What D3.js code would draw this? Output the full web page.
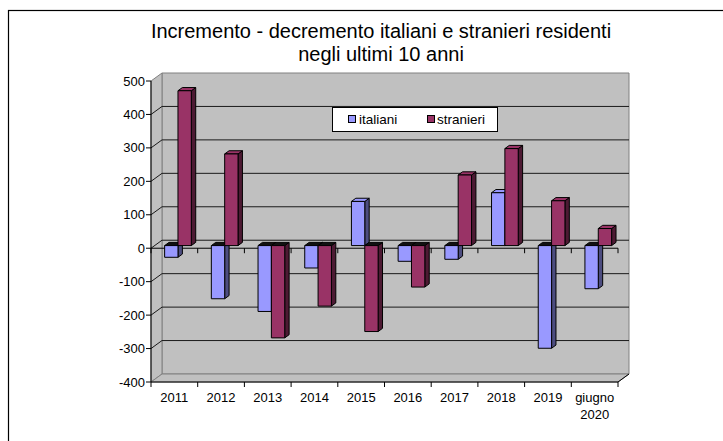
<!DOCTYPE html>
<html><head><meta charset="utf-8">
<script src="https://cdn.jsdelivr.net/npm/d3@7"></script>
<style>
html,body{margin:0;padding:0;background:#fff;}
svg{display:block;}
text{font-family:"Liberation Sans",Arial,sans-serif;fill:#000;}
</style></head>
<body>
<svg id="chart" width="723" height="441"></svg>
<script>
const categories = ["2011","2012","2013","2014","2015","2016","2017","2018","2019","giugno 2020"];
const seriesNames = ["italiani","stranieri"];
const italiani = [-35,-159,-197,-67,132,-47,-41,158,-307,-129];
const stranieri = [463,274,-276,-181,-257,-124,211,290,134,51];
const yTicks = [-400,-300,-200,-100,0,100,200,300,400,500];
const titleLines = ["Incremento - decremento italiani e stranieri residenti","negli ultimi 10 anni"];

const colors = {italiani:"#9999FF", stranieri:"#993366"};
const sideColors = {italiani:"#4D4D80", stranieri:"#4D1A33"};
const seriesValues = {italiani, stranieri};

const svg = d3.select("#chart");
const DX = 11, DY = 8;           // depth of the 3D box
const D0 = 0.33, D1 = 0.73;      // bar depth range
const x = d3.scaleBand().domain(categories).range([151, 618]);
const xs = d3.scaleBand().domain(seriesNames).range([0, x.bandwidth()]).paddingInner(0).paddingOuter(0.75);
const y = d3.scaleLinear().domain([-400, 500]).range([382, 81]);
const P = (px, v, d) => [px + d*DX, y(v) - d*DY];
const poly = pts => pts.map(p => p.join(",")).join(" ");

// chart border
svg.append("rect").attr("x",8.5).attr("y",10.5).attr("width",800).attr("height",600)
  .attr("fill","none").attr("stroke","#000").attr("stroke-width",1.2);

// title
svg.append("text").attr("x",381).attr("y",38).attr("text-anchor","middle")
  .style("font-size","20px").text(titleLines[0]);
svg.append("text").attr("x",381).attr("y",61).attr("text-anchor","middle")
  .style("font-size","20px").text(titleLines[1]);

const x0 = x.range()[0], x1 = x.range()[1];
const vMin = y.domain()[0], vMax = y.domain()[1];

// back wall
svg.append("polygon").attr("points", poly([P(x0,vMax,1),P(x1,vMax,1),P(x1,vMin,1),P(x0,vMin,1)]))
  .attr("fill","#C0C0C0").attr("stroke","#808080").attr("stroke-width",1);
// left wall
svg.append("polygon").attr("points", poly([P(x0,vMax,0),P(x0,vMax,1),P(x0,vMin,1),P(x0,vMin,0)]))
  .attr("fill","#C0C0C0").attr("stroke","#808080").attr("stroke-width",1);
// floor
svg.append("polygon").attr("points", poly([P(x0,vMin,0),P(x1,vMin,0),P(x1,vMin,1),P(x0,vMin,1)]))
  .attr("fill","#C0C0C0").attr("stroke","#808080").attr("stroke-width",1);

// gridlines
const grid = svg.append("g").attr("stroke","#1a1a1a").attr("stroke-width",1).attr("fill","none");
yTicks.filter(v => v > vMin && v < vMax).forEach(v => {
  grid.append("polyline").attr("points", poly([P(x0,v,0),P(x0,v,1),P(x1,v,1)]));
});

// y axis
svg.append("line").attr("x1",x0).attr("x2",x0).attr("y1",y(vMax)).attr("y2",y(vMin))
  .attr("stroke","#000").attr("stroke-width",1);
yTicks.forEach(v => {
  svg.append("line").attr("x1",x0-5).attr("x2",x0).attr("y1",y(v)).attr("y2",y(v)).attr("stroke","#000");
  svg.append("text").attr("x",x0-6).attr("y",y(v)).attr("dy","0.35em").attr("text-anchor","end")
    .style("font-size","13px").text(v);
});

// bottom axis (front of floor) + right diagonal
svg.append("polyline").attr("points", poly([P(x0,vMin,0),P(x1,vMin,0),P(x1,vMin,1)]))
  .attr("fill","none").attr("stroke","#000").attr("stroke-width",1);
const bounds = categories.map(c => x(c)).concat([x1]);
bounds.forEach(bx => {
  svg.append("line").attr("x1",bx).attr("x2",bx).attr("y1",y(vMin)).attr("y2",y(vMin)+5).attr("stroke","#000");
});
// zero axis
svg.append("line").attr("x1",x0).attr("x2",x1).attr("y1",y(0)).attr("y2",y(0)).attr("stroke","#000");
bounds.forEach(bx => {
  svg.append("line").attr("x1",bx).attr("x2",bx).attr("y1",y(0)).attr("y2",y(0)+5).attr("stroke","#000");
});

// category labels
categories.forEach(c => {
  const lines = c.split(" ");
  const t = svg.append("text").attr("x", x(c) + x.bandwidth()/2).attr("y", 402)
    .attr("text-anchor","middle").style("font-size","13px");
  lines.forEach((ln,i) => t.append("tspan").attr("x", x(c) + x.bandwidth()/2).attr("dy", i ? 17 : 0).text(ln));
});

// bars
const bars = svg.append("g").attr("stroke","#000").attr("stroke-width",1).attr("stroke-linejoin","round");
categories.forEach((c,i) => {
  seriesNames.forEach(s => {
    const v = seriesValues[s][i];
    const bx0 = x(c) + xs(s), bx1 = bx0 + xs.bandwidth();
    const vt = Math.max(v,0), vb = Math.min(v,0);
    bars.append("polygon").attr("points", poly([P(bx1,vt,D0),P(bx1,vt,D1),P(bx1,vb,D1),P(bx1,vb,D0)]))
      .attr("fill", sideColors[s]);
    bars.append("polygon").attr("points", poly([P(bx0,vt,D0),P(bx1,vt,D0),P(bx1,vt,D1),P(bx0,vt,D1)]))
      .attr("fill", v >= 0 ? colors[s] : "#111");
    bars.append("polygon").attr("points", poly([P(bx0,vt,D0),P(bx1,vt,D0),P(bx1,vb,D0),P(bx0,vb,D0)]))
      .attr("fill", colors[s]);
  });
});

// legend
const lg = svg.append("g");
lg.append("rect").attr("x",332.5).attr("y",107.5).attr("width",165).attr("height",24)
  .attr("fill","#fff").attr("stroke","#000");
const legendPos = [{sx:348, tx:359},{sx:427, tx:437}];
seriesNames.forEach((s,i) => {
  lg.append("rect").attr("x",legendPos[i].sx+0.5).attr("y",115.5).attr("width",7).attr("height",7)
    .attr("fill",colors[s]).attr("stroke","#000");
  lg.append("text").attr("x",legendPos[i].tx).attr("y",124).style("font-size","13.5px").text(s);
});
</script>
</body></html>
